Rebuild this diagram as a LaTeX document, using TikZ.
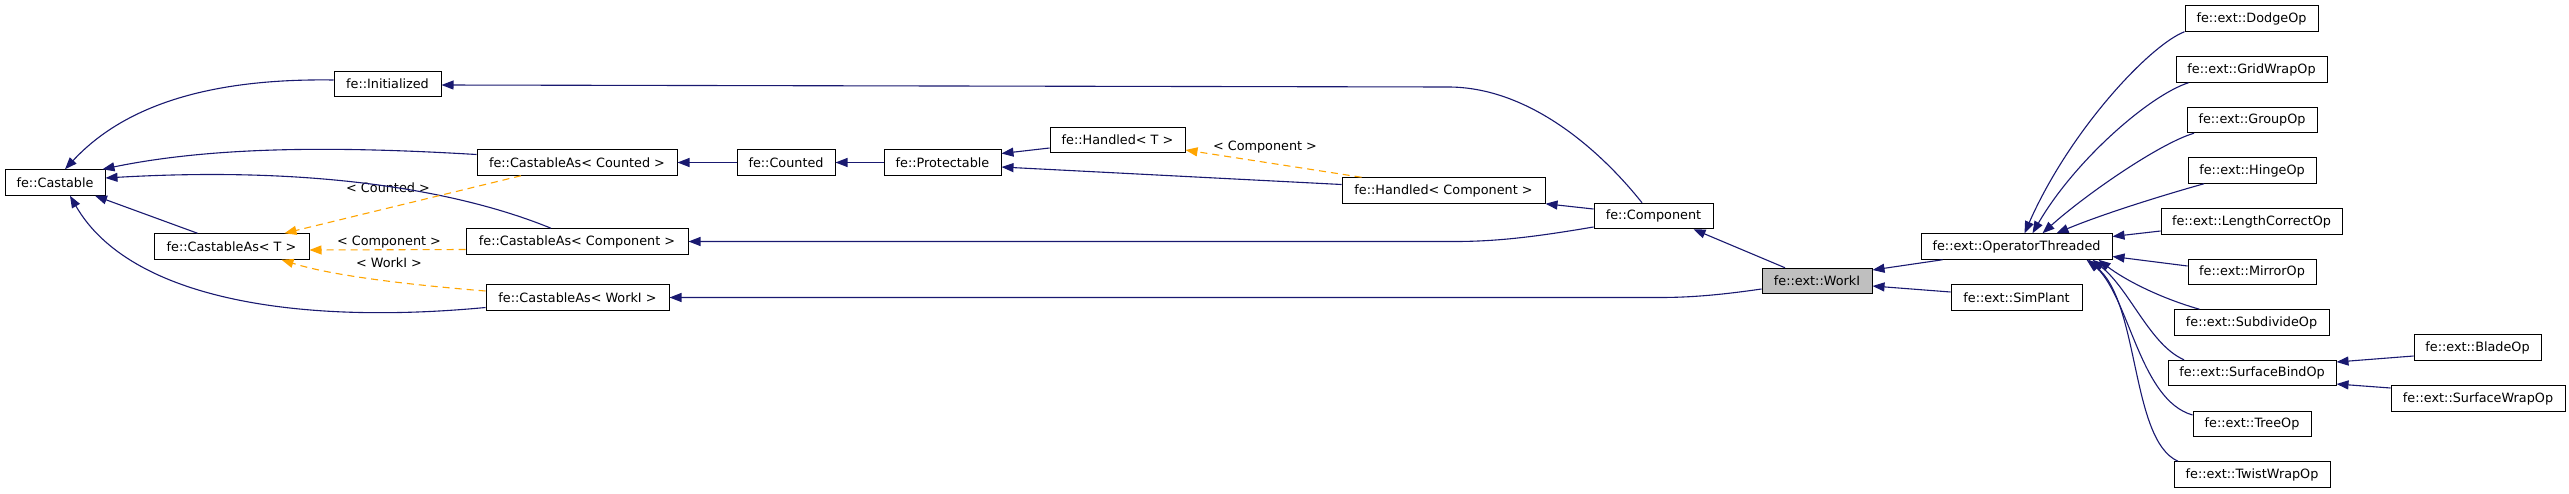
\documentclass[tikz,border=0pt]{standalone}
\usepackage{fontspec}
\setmainfont{DejaVu Sans}
\usetikzlibrary{arrows.meta}
\definecolor{edgeblue}{HTML}{191970}
\definecolor{tmplorange}{HTML}{FFA500}
\definecolor{curfill}{HTML}{BFBFBF}
\begin{document}
\begin{tikzpicture}[x=1pt,y=-1pt,
  cls/.style={draw=black, line width=1pt, fill=white, inner sep=0pt, minimum height=25.5pt, font=\fontsize{12.8}{15}\selectfont, anchor=center},
  cur/.style={cls, fill=curfill},
  inh/.style={draw=edgeblue, line width=1.1pt, -{Triangle[length=12pt,width=9pt]}},
  tmpl/.style={draw=tmplorange, line width=1.1pt, dash pattern=on 7pt off 5pt, -{Triangle[length=12pt,width=9pt]}},
  lbl/.style={font=\fontsize{12.8}{15}\selectfont, inner sep=0pt}]
\fill[white] (0,0) rectangle (2569,493);
\useasboundingbox (0,0) rectangle (2569,493);

\node[cls, minimum width=100pt] (castable) at (55,182.5) {fe::Castable};
\node[cls, minimum width=107pt] (initialized) at (387.5,84) {fe::Initialized};
\node[cls, minimum width=200pt] (casCounted) at (577,162.5) {fe::CastableAs< Counted >};
\node[cls, minimum width=155pt] (casT) at (231.5,246.5) {fe::CastableAs< T >};
\node[cls, minimum width=222pt] (casComp) at (577,241.5) {fe::CastableAs< Component >};
\node[cls, minimum width=183pt] (casWork) at (577.5,297.5) {fe::CastableAs< WorkI >};
\node[cls, minimum width=98pt] (counted) at (786,162.5) {fe::Counted};
\node[cls, minimum width=117pt] (protectable) at (942.5,162.5) {fe::Protectable};
\node[cls, minimum width=135pt] (handledT) at (1117.5,140) {fe::Handled< T >};
\node[cls, minimum width=203pt] (handledComp) at (1443.5,190.5) {fe::Handled< Component >};
\node[cls, minimum width=119pt] (component) at (1653.5,216) {fe::Component};
\node[cur, minimum width=110pt] (workI) at (1817,281) {fe::ext::WorkI};
\node[cls, minimum width=191pt] (opThr) at (2016.5,246.5) {fe::ext::OperatorThreaded};
\node[cls, minimum width=131pt] (simPlant) at (2016.5,297.5) {fe::ext::SimPlant};
\node[cls, minimum width=133pt] (dodge) at (2251.5,18.5) {fe::ext::DodgeOp};
\node[cls, minimum width=151pt] (gridWrap) at (2251.5,69.5) {fe::ext::GridWrapOp};
\node[cls, minimum width=130pt] (group) at (2252,120) {fe::ext::GroupOp};
\node[cls, minimum width=128pt] (hinge) at (2252,170.5) {fe::ext::HingeOp};
\node[cls, minimum width=181pt] (lengthCorr) at (2251.5,221.5) {fe::ext::LengthCorrectOp};
\node[cls, minimum width=128pt] (mirror) at (2252,272) {fe::ext::MirrorOp};
\node[cls, minimum width=155pt] (subdivide) at (2251.5,322.5) {fe::ext::SubdivideOp};
\node[cls, minimum width=168pt] (surfBind) at (2252,373) {fe::ext::SurfaceBindOp};
\node[cls, minimum width=127pt] (blade) at (2477.5,347.5) {fe::ext::BladeOp};
\node[cls, minimum width=174pt] (surfWrap) at (2478,398.5) {fe::ext::SurfaceWrapOp};
\node[cls, minimum width=118pt] (tree) at (2252,424) {fe::ext::TreeOp};
\node[cls, minimum width=156pt] (twist) at (2252,474.5) {fe::ext::TwistWrapOp};

\node[lbl] (lblCounted) at (388,188) {< Counted >};
\node[lbl] (lblComp1) at (389,242) {< Component >};
\node[lbl] (lblWork) at (389,263) {< WorkI >};
\node[lbl] (lblComp2) at (1265,147) {< Component >};

\draw[inh] ([yshift=4pt]initialized.west) .. controls (200,78) and (120,110) .. ([xshift=10pt]castable.north);
\draw[inh] ([yshift=8pt]casCounted.west) .. controls (350,147) and (220,145) .. ([xshift=-3pt]castable.north east);
\draw[inh] ([xshift=-26pt]casComp.north) .. controls (470,195) and (330,165) .. ([yshift=4.5pt]castable.east);
\draw[inh] ([xshift=-34pt]casT.north) -- ([xshift=40pt]castable.south);
\draw[inh] ([yshift=-10pt]casWork.west) .. controls (300,325) and (130,300) .. ([xshift=15pt]castable.south);
\draw[tmpl] ([xshift=-56pt]casCounted.south) -- ([xshift=53pt]casT.north);
\draw[tmpl] ([yshift=-8pt]casComp.west) -- ([yshift=-3.5pt]casT.east);
\draw[tmpl] ([yshift=6.5pt]casWork.west) .. controls (400,284) and (330,275) .. ([xshift=50pt]casT.south);
\draw[inh] (counted.west) -- (casCounted.east);
\draw[inh] (protectable.west) -- (counted.east);
\draw[inh] ([yshift=-8pt]handledT.west) -- ([yshift=9pt]protectable.east);
\draw[inh] ([yshift=6pt]handledComp.west) -- ([yshift=-4.5pt]protectable.east);
\draw[tmpl] ([xshift=-82pt]handledComp.north) -- ([yshift=-10pt]handledT.east);
\draw[inh] ([yshift=7pt]component.west) -- (handledComp.south east);
\draw[inh] ([xshift=-11.5pt]component.north) .. controls (1600,150) and (1530,88) .. (1450,87) -- ([yshift=-1pt]initialized.east);
\draw[inh] ([yshift=-11pt]component.west) .. controls (1540,236) and (1500,241.5) .. (1455,241.5) -- (casComp.east);
\draw[inh] ([xshift=-32pt]workI.north) -- ([xshift=40pt]component.south);
\draw[inh] ([yshift=-8pt]workI.west) .. controls (1720,295) and (1690,297.5) .. (1660,297.5) -- (casWork.east);
\draw[inh] ([xshift=-74pt]opThr.south) -- ([yshift=11pt]workI.east);
\draw[inh] ([yshift=5.5pt]simPlant.west) -- ([yshift=-5pt]workI.east);
\draw[inh] (dodge.south west) .. controls (2150,45) and (2070,130) .. ([xshift=8pt]opThr.north);
\draw[inh] ([xshift=-63pt]gridWrap.south) .. controls (2150,95) and (2075,160) .. ([xshift=16pt]opThr.north);
\draw[inh] ([xshift=-58pt]group.south) .. controls (2160,143) and (2085,195) .. ([xshift=26pt]opThr.north);
\draw[inh] ([xshift=-48pt]hinge.south) .. controls (2160,196) and (2100,215) .. ([xshift=40pt]opThr.north);
\draw[inh] ([yshift=-9.5pt]lengthCorr.west) -- ([yshift=10pt]opThr.east);
\draw[inh] ([yshift=6pt]mirror.west) -- ([yshift=-10pt]opThr.east);
\draw[inh] ([xshift=-52pt]subdivide.north) .. controls (2160,298) and (2125,280) .. ([xshift=82pt]opThr.south);
\draw[inh] ([xshift=-68pt]surfBind.north) .. controls (2150,345) and (2130,290) .. ([xshift=76pt]opThr.south);
\draw[inh] ([yshift=9pt]tree.west) .. controls (2140,400) and (2130,300) .. ([xshift=72pt]opThr.south);
\draw[inh] ([xshift=-74pt]twist.north) .. controls (2130,440) and (2140,300) .. ([xshift=70pt]opThr.south);
\draw[inh] ([yshift=-8.5pt]blade.west) -- ([yshift=11pt]surfBind.east);
\draw[inh] ([yshift=10.5pt]surfWrap.west) -- ([yshift=-11pt]surfBind.east);
\end{tikzpicture}
\end{document}
